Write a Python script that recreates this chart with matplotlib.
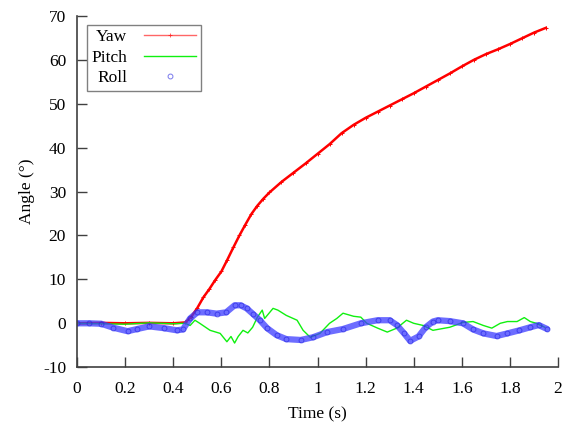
import matplotlib
matplotlib.use("Agg")
import numpy as np
import matplotlib.pyplot as plt

plt.rcParams['font.family'] = ['Liberation Serif', 'DejaVu Serif']
plt.rcParams['font.size'] = 12.5
plt.rcParams['axes.unicode_minus'] = False

# values (time in s, angle in degrees)
t_yaw = [0.0, 0.1, 0.2, 0.3, 0.4, 0.45, 0.475, 0.5, 0.525, 0.55, 0.575, 0.6,
         0.625, 0.65, 0.675, 0.7, 0.725, 0.75, 0.775, 0.8, 0.85, 0.9, 0.95,
         1.0, 1.05, 1.1, 1.15, 1.2, 1.25, 1.3, 1.35, 1.4, 1.45, 1.5, 1.55,
         1.6, 1.65, 1.7, 1.75, 1.8, 1.85, 1.9, 1.95]
yaw = [0.0, 0.1, 0.0, 0.1, 0.0, 0.2, 1.5, 3.5, 5.9, 7.8, 9.9, 11.8,
       14.5, 17.3, 20.0, 22.5, 24.9, 26.8, 28.4, 29.8, 32.2, 34.3, 36.4,
       38.6, 40.8, 43.3, 45.2, 46.8, 48.2, 49.6, 51.0, 52.4, 53.9, 55.4, 56.9,
       58.5, 60.0, 61.3, 62.4, 63.6, 64.9, 66.2, 67.3]

t_pitch = [0.0, 0.1, 0.2, 0.3, 0.4, 0.45, 0.47, 0.49, 0.51, 0.553, 0.595,
           0.623, 0.64, 0.655, 0.67, 0.69, 0.71, 0.73, 0.75, 0.77, 0.78,
           0.815, 0.835, 0.87, 0.915, 0.94, 0.97, 1.01, 1.05, 1.08, 1.106,
           1.15, 1.18, 1.205, 1.25, 1.29, 1.33, 1.37, 1.40, 1.44, 1.48,
           1.55, 1.605, 1.647, 1.69, 1.725, 1.76, 1.79, 1.83, 1.86, 1.885,
           1.91, 1.945]
pitch = [0.0, -0.1, -0.2, 0.1, -0.1, 0.0, -0.5, 0.7, 0.0, -1.6, -2.3,
         -4.2, -3.0, -4.5, -3.0, -1.6, -2.2, -0.9, 1.4, 3.0, 1.1,
         3.4, 3.0, 1.8, 0.7, -1.6, -3.2, -2.3, 0.0, 1.1, 2.3,
         1.6, 1.4, 0.0, -1.1, -2.0, -1.1, 0.7, 0.0, -0.5, -1.6,
         -0.9, 0.2, 0.4, -0.5, -1.1, 0.0, 0.4, 0.4, 1.3, 0.4,
         0.0, -0.9]

t_roll = [0.0, 0.05, 0.1, 0.15, 0.21, 0.25, 0.30, 0.36, 0.415, 0.44, 0.47,
          0.5, 0.54, 0.58, 0.62, 0.655, 0.68, 0.705, 0.73, 0.76, 0.79,
          0.83, 0.87, 0.93, 0.98, 1.04, 1.106, 1.18, 1.25, 1.30, 1.33,
          1.36, 1.385, 1.42, 1.45, 1.48, 1.50, 1.55, 1.605, 1.647, 1.69,
          1.745, 1.79, 1.84, 1.885, 1.92, 1.955]
roll = [0.0, 0.0, -0.1, -1.0, -1.8, -1.3, -0.7, -1.1, -1.6, -1.4, 1.1,
        2.5, 2.5, 2.2, 2.5, 4.1, 4.1, 3.4, 2.2, 0.7, -1.1,
        -2.7, -3.6, -3.8, -3.2, -2.0, -1.3, 0.0, 0.7, 0.7, -0.4,
        -2.3, -4.0, -3.0, -0.9, 0.4, 0.7, 0.5, 0.0, -1.4, -2.3,
        -2.9, -2.3, -1.6, -0.9, -0.4, -1.3]

fig = plt.figure(figsize=(5.63, 4.32), dpi=100)
ax = fig.add_axes([0.137, 0.150, 0.854, 0.813])

ax.plot(t_yaw, yaw, color='red', lw=1.8, marker='+', ms=2.5, mew=0.7, label='Yaw')
ax.plot(t_pitch, pitch, color='#10f010', lw=1.0, label='Pitch')
ax.plot(t_roll, roll, color='#3c3cff', lw=4.5, alpha=0.75, solid_capstyle='round')
ax.plot(t_roll, roll, color='#2020e0', lw=0, marker='o', ms=3.5, mfc='none',
        mew=0.7, alpha=0.6, label='Roll')

ax.set_xlim(0, 2)
ax.set_ylim(-10, 70)
ax.set_xticks(np.arange(0, 2.01, 0.2))
ax.set_xticklabels(['0', '0.2', '0.4', '0.6', '0.8', '1', '1.2', '1.4', '1.6', '1.8', '2'])
ax.set_yticks(range(-10, 71, 10))
ax.tick_params(direction='in', length=7, width=1, color='#404040')
ax.tick_params(axis='x', pad=10)
ax.tick_params(axis='y', pad=8)

for s in ['top', 'right']:
    ax.spines[s].set_visible(False)
for s in ['left', 'bottom']:
    ax.spines[s].set_color('#404040')
    ax.spines[s].set_linewidth(1.2)

ax.set_xlabel('Time (s)', labelpad=7)
ax.set_ylabel('Angle (°)', labelpad=6)

leg = ax.legend(loc='upper left', bbox_to_anchor=(0.02, 0.975), markerfirst=False,
                fancybox=False, edgecolor='#808080', framealpha=1,
                handlelength=3.0, borderaxespad=0, labelspacing=0.25,
                borderpad=0.25, handletextpad=1.0)
leg.get_frame().set_linewidth(1.0)
# thinner, lighter sample line for Yaw, like the reference legend
leg.legend_handles[0].set_linewidth(1.0)
leg.legend_handles[0].set_alpha(0.6)

fig.savefig('out.png', dpi=100)
